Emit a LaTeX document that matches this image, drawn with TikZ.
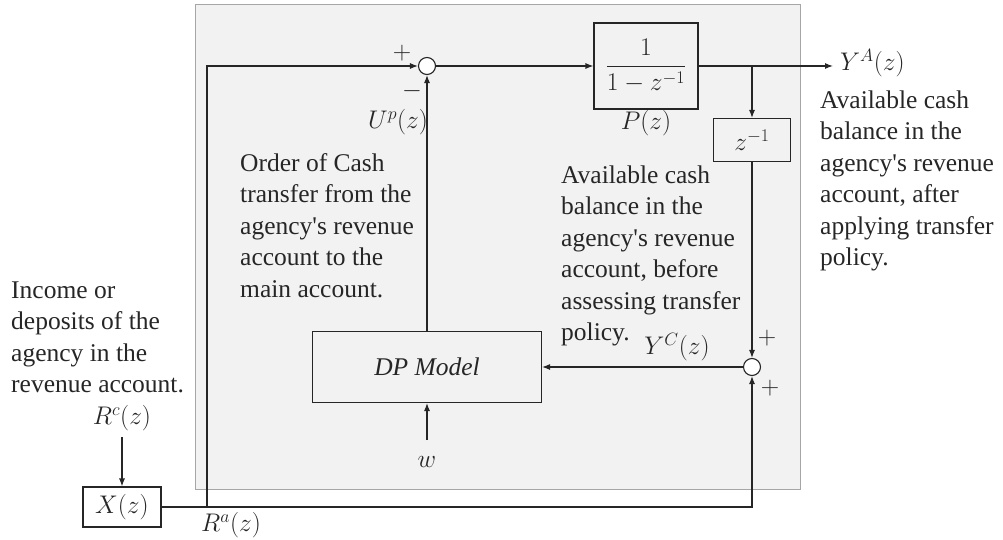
\RequirePackage{fix-cm}
\documentclass[tikz,border=0pt]{standalone}
\usepackage{fontspec}
\newfontfamily\tnr{Liberation Serif}
\usetikzlibrary{arrows.meta}
\definecolor{bgfill}{HTML}{F2F2F2}
\definecolor{bgline}{HTML}{A6A6A6}
\definecolor{ink}{HTML}{262626}
\begin{document}
\begin{tikzpicture}[x=1pt,y=-1pt,
  every node/.style={font=\fontsize{25.5}{31.5}\selectfont, text=ink},
  txt/.style={font=\fontsize{25.5}{31.5}\selectfont\tnr, align=left, inner sep=0pt, anchor=north west},
  lbl/.style={inner sep=0pt},
  blk/.style={draw=ink, line width=1.1pt, inner sep=0pt},
  sumnode/.style={draw=ink, line width=1.1pt, circle, minimum size=17pt, inner sep=0pt, fill=white},
  conn/.style={draw=ink, line width=1.1pt},
  arr/.style={conn, -{Latex[length=8pt,width=6pt]}}]
\useasboundingbox (0,0) rectangle (1003,540);
\draw[fill=bgfill, draw=bgline, line width=1pt] (195,5) rectangle (800,489);

% blocks
\node[sumnode] (s1) at (427,66) {};
\node[blk, minimum width=104pt, minimum height=86pt] (P) at (646,66) {$\displaystyle\frac{1}{1-z^{-1}}$};
\node[blk, minimum width=77pt, minimum height=43pt] (D) at (752,140) {$z^{-1}$};
\node[sumnode] (s2) at (752,367) {};
\node[blk, minimum width=229pt, minimum height=71pt] (DP) at (427,367) {{\tnr\itshape DP Model}};
\node[blk, minimum width=78pt, minimum height=40pt] (X) at (122,507) {$X(z)$};

% free ends
\coordinate (out) at (833,66);
\coordinate (br) at (752,66);
\coordinate (win) at (427,440);
\coordinate (rcin) at (122,437);
\coordinate (j) at (207,507);

% connectors
\draw[arr] (s1.east) -- (P.west);
\draw[arr] (P.east) -- (out);
\draw[arr] (br) -- (D.north);
\draw[arr] (D.south) -- (s2.north);
\draw[arr] (s2.west) -- (DP.east);
\draw[arr] (DP.north) -- (s1.south);
\draw[arr] (win) -- (DP.south);
\draw[arr] (rcin) -- (X.north);
\draw[arr] (X.east) -| (s2.south);
\draw[arr] (j) |- (s1.west);

% labels
\node[lbl] (pl1) at (402,53) {$+$};
\node[lbl] (mi1) at (412,91) {$-$};
\node[lbl] (up) at (398,122) {$U^{p}(z)$};
\node[lbl] (pz) at (646,123) {$P(z)$};
\node[lbl, anchor=west] (ya) at (840,63) {$Y^{A}(z)$};
\node[lbl] (yc) at (677,347) {$Y^{C}(z)$};
\node[lbl] (pl2) at (767,338) {$+$};
\node[lbl] (pl3) at (770,388) {$+$};
\node[lbl] (w) at (427,462) {$w$};
\node[lbl] (rc) at (122,418) {$R^{c}(z)$};
\node[lbl] (ra) at (231,525) {$R^{a}(z)$};

% text blocks
\node[txt] (t1) at (11,276) {\strut Income or\\deposits of the\\agency in the\\revenue account.};
\node[txt] (t2) at (240,149) {\strut Order of Cash\\transfer from the\\agency's revenue\\account to the\\main account.};
\node[txt] (t3) at (561,161) {\strut Available cash\\balance in the\\agency's revenue\\account, before\\assessing transfer\\policy.};
\node[txt] (t4) at (820,86) {\strut Available cash\\balance in the\\agency's revenue\\account, after\\applying transfer\\policy.};
\end{tikzpicture}
\end{document}
